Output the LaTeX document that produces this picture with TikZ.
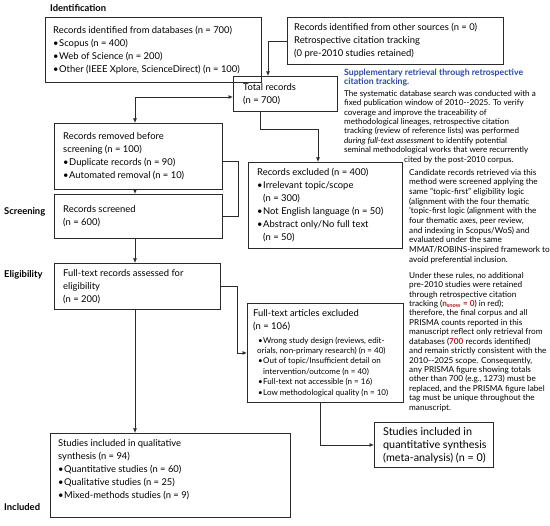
\documentclass[tikz,border=0pt]{standalone}
\usepackage{fontspec}
\setmainfont{Lato}
\usetikzlibrary{arrows.meta,calc}
\definecolor{ln}{HTML}{2B2B2B}
\definecolor{hdblue}{HTML}{2A4A9E}
\definecolor{tred}{HTML}{B01C1C}
\newcommand{\bl}{\makebox[6pt][l]{•}}
\newcommand{\bls}{\makebox[5pt][l]{•}}
\begin{document}
\begin{tikzpicture}[x=1pt,y=-1pt,
  boxs/.style={draw=ln, line width=0.95pt, anchor=north west, inner sep=0pt},
  txt/.style={anchor=west, align=left, inner sep=0pt, text=black, font=\fontsize{9.4}{13}\selectfont},
  lab/.style={anchor=west, inner sep=0pt, font=\fontsize{9.4}{11}\selectfont\bfseries},
  para/.style={anchor=north west, align=left, inner sep=0pt, text=black},
  arr/.style={draw=ln, line width=0.85pt, -{Latex[length=4.5pt,width=4pt]}},
  conn/.style={draw=ln, line width=0.85pt}]
\fill[white] (0,0) rectangle (550,526);
\useasboundingbox (0,0) rectangle (550,526);

% phase labels
\node[lab] (lid) at (50,8) {Identification};
\node[lab] (lsc) at (4,212) {Screening};
\node[lab] (lel) at (4,275) {Eligibility};
\node[lab] (lin) at (4,507) {Included};

% boxes
\node[boxs, minimum width=216pt, minimum height=65pt] (db) at (45,17) {};
\node[txt] (dbt) at ($(db.west)+(8,0)$) {Records identified from databases (n = 700)\\
\bl Scopus (n = 400)\\ \bl Web of Science (n = 200)\\ \bl Other (IEEE Xplore, ScienceDirect) (n = 100)};

\node[boxs, minimum width=216pt, minimum height=47pt] (other) at (287,17) {};
\node[txt] (othert) at ($(other.west)+(7,0)$) {Records identified from other sources (n = 0)\\
Retrospective citation tracking\\ (0 pre-2010 studies retained)};

\node[boxs, minimum width=104pt, minimum height=35pt] (total) at (233,76) {};
\node[txt] (totalt) at ($(total.west)+(10,0)$) {Total records\\ (n = 700)};

\node[boxs, minimum width=168pt, minimum height=66pt] (removed) at (54,123) {};
\node[txt] (removedt) at ($(removed.west)+(9,0)$) {Records removed before\\ screening (n = 100)\\
\bl Duplicate records (n = 90)\\ \bl Automated removal (n = 10)};

\node[boxs, minimum width=168pt, minimum height=44pt] (screened) at (54,194) {};
\node[txt] (screenedt) at ($(screened.west)+(9,0)$) {Records screened\\ (n = 600)};

\node[boxs, minimum width=154pt, minimum height=86pt] (excl1) at (248,162) {};
\node[txt] (excl1t) at ($(excl1.west)+(9,0)$) {Records excluded (n = 400)\\
\bl Irrelevant topic/scope\\ \hspace*{6pt}(n = 300)\\ \bl Not English language (n = 50)\\
\bl Abstract only/No full text\\ \hspace*{6pt}(n = 50)};

\node[boxs, minimum width=166pt, minimum height=46pt] (fulltext) at (54,263) {};
\node[txt] (fulltextt) at ($(fulltext.west)+(9,0)$) {Full-text records assessed for\\ eligibility\\ (n = 200)};

\node[boxs, minimum width=156pt, minimum height=99pt] (excl2) at (247,303) {};
\node[txt] (excl2t) at ($(excl2.west)+(6,0)$) {\begin{tabular}{@{}l@{}}Full-text articles excluded\\ (n = 106)\end{tabular}\\[1pt]
{\fontsize{8}{10.4}\selectfont\begin{tabular}{@{}l@{}}
\hspace*{5pt}\bls Wrong study design (reviews, edit-\\
\hspace*{4pt}orials, non-primary research) (n = 40)\\
\hspace*{5pt}\bls Out of topic/Insufficient detail on\\
\hspace*{10pt}intervention/outcome (n = 40)\\
\hspace*{5pt}\bls Full-text not accessible (n = 16)\\
\hspace*{5pt}\bls Low methodological quality (n = 10)\end{tabular}}};

\node[boxs, minimum width=240pt, minimum height=84pt] (qual) at (50,433) {};
\node[txt] (qualt) at ($(qual.west)+(8,-6)$) {Studies included in qualitative\\ synthesis (n = 94)\\
\bl Quantitative studies (n = 60)\\ \bl Qualitative studies (n = 25)\\ \bl Mixed-methods studies (n = 9)};

\node[boxs, minimum width=119pt, minimum height=45pt] (quant) at (374,422) {};
\node[txt, font=\fontsize{10.8}{13}\selectfont] (quantt) at ($(quant.west)+(9,0)$) {Studies included in\\ quantitative synthesis\\ (meta-analysis) (n = 0)};

% right column notes
\node[para, text=hdblue, font=\fontsize{8.7}{8.4}\selectfont\bfseries] (hd) at (344,69) {Supplementary retrieval through retrospective\\ citation tracking.};
\node[para, font=\fontsize{8.1}{9.45}\selectfont] (p1) at (344,90) {The systematic database search was conducted with a\\
fixed publication window of 2010-{}-2025. To verify\\
coverage and improve the traceability of\\
methodological lineages, retrospective citation\\
tracking (review of reference lists) was performed\\
\textit{during full-text assessment} to identify potential\\
seminal methodological works that were recurrently\\
\hspace*{60pt}cited by the post-2010 corpus.};
\node[para, font=\fontsize{8.2}{9.65}\selectfont] (p2) at (409,169) {Candidate records retrieved via this\\
method were screened applying the\\
same "topic-first" eligibility logic\\
(alignment with the four thematic\\
'topic-first logic (alignment with the\\
four thematic axes, peer review,\\
and indexing in Scopus/WoS) and\\
evaluated under the same\\
MMAT/ROBINS-inspired framework to\\
avoid preferential inclusion.};
\node[para, font=\fontsize{8.2}{9.43}\selectfont] (p3) at (409,272) {Under these rules, no additional\\
pre-2010 studies were retained\\
through retrospective citation\\
tracking (\textcolor{tred}{\textbf{n\textsubscript{snow} = 0}}) in red);\\
therefore, the final corpus and all\\
PRISMA counts reported in this\\
manuscript reflect only retrieval from\\
databases (\textcolor{tred}{\textbf{700}} records identified)\\
and remain strictly consistent with the\\
2010-{}-2025 scope. Consequently,\\
any PRISMA figure showing totals\\
other than 700 (e.g., 1273) must be\\
replaced, and the PRISMA figure label\\
tag must be unique throughout the\\
manuscript.};

% connectors
\coordinate (split) at (135,97);
\draw[arr] (other.west) -| ($(total.north west)+(35,0)$);
\draw[arr] (split) -- (split -| total.west);
\draw[arr] (split) -- (split |- removed.north);
\draw[arr] ($(total.south west)+(27,0)$) -- ++(0,17) -| ($(excl1.north west)+(70,0)$);
\draw[arr] (removed.south -| split) -- (screened.north -| split);
\draw[conn] ($(removed.east)+(0,5)$) -- ++(15,0) |- (screened.east);
\draw[arr] (screened.south -| split) -- (fulltext.north -| split);
\draw[arr] (fulltext.east) -- ++(16,0) |- (excl2.west);
\draw[arr] (fulltext.south -| split) -- (qual.north -| split);
\draw[arr] ($(excl2.south west)+(73,0)$) |- (quant.west);
\end{tikzpicture}
\end{document}
